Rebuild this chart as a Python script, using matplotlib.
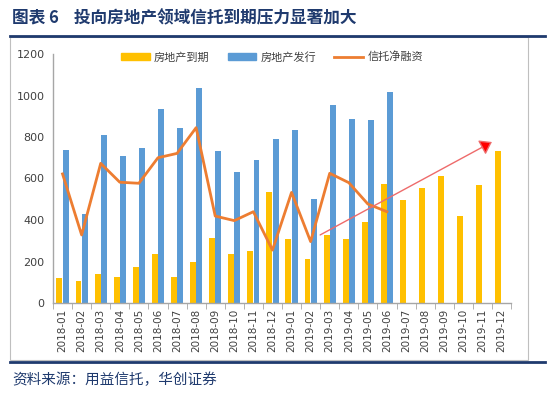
import matplotlib
matplotlib.use("Agg")
import matplotlib.pyplot as plt
import numpy as np
from matplotlib.lines import Line2D
from matplotlib.patches import Rectangle, Patch

plt.rcParams['font.family'] = ['Noto Sans CJK SC', 'DejaVu Sans']

months = ["2018-01", "2018-02", "2018-03", "2018-04", "2018-05", "2018-06",
          "2018-07", "2018-08", "2018-09", "2018-10", "2018-11", "2018-12",
          "2019-01", "2019-02", "2019-03", "2019-04", "2019-05", "2019-06",
          "2019-07", "2019-08", "2019-09", "2019-10", "2019-11", "2019-12"]
maturing = [120, 108, 140, 127, 172, 238, 124, 196, 313, 238, 252, 533,
            307, 210, 326, 307, 389, 575, 496, 556, 614, 418, 569, 733]
issuance = [737, 430, 810, 707, 749, 935, 842, 1035, 731, 630, 689, 789,
            835, 500, 953, 887, 882, 1015]
net_financing = [622, 328, 673, 582, 577, 700, 721, 845, 419, 397, 440, 255,
                 533, 296, 625, 580, 477, 440]

W, H = 552, 394
fig = plt.figure(figsize=(W / 100, H / 100), dpi=100)

def fx(px):
    return px / W

def fy(py):
    return 1 - py / H

ax = fig.add_axes([fx(53), fy(303), fx(511) - fx(53), fy(54) - fy(303)])

x = np.arange(len(months))
bw = 0.31
ax.bar(x - bw / 2 - 0.01, maturing, width=bw, color='#FFC000', label='房地产到期', zorder=2)
ax.bar(x[:len(issuance)] + bw / 2 + 0.01, issuance, width=bw, color='#5B9BD5', label='房地产发行', zorder=2)
ax.plot(x[:len(net_financing)], net_financing, color='#ED7D31', lw=2, label='信托净融资', zorder=3)

ax.annotate('', xy=(22.5, 776), xytext=(13.5, 328),
            arrowprops=dict(arrowstyle='-|>,head_length=0.5,head_width=0.35',
                            mutation_scale=14, lw=1,
                            ec='#EE6B6B', fc='#FF0000', shrinkA=0, shrinkB=0),
            zorder=4)

ax.set_xlim(-0.5, len(months) - 0.5)
ax.set_ylim(0, 1200)
ax.set_yticks(range(0, 1201, 200))
ax.set_xticks(x)
ax.set_xticklabels(months, rotation=90, fontsize=7.5, color='#404040',
                   family=['DejaVu Sans'])
ax.set_xticks(np.arange(-0.5, len(months), 1), minor=True)
ax.tick_params(axis='x', which='major', length=0, pad=4)
ax.tick_params(axis='x', which='minor', length=4, color='#A6A6A6')
ax.tick_params(axis='y', length=0, labelsize=8, labelcolor='#404040', pad=6)
for lab in ax.get_yticklabels():
    lab.set_family(['DejaVu Sans'])
for s in ['top', 'right']:
    ax.spines[s].set_visible(False)
for s in ['left', 'bottom']:
    ax.spines[s].set_color('#A6A6A6')
    ax.spines[s].set_linewidth(1)

handles = [Patch(color='#FFC000'), Patch(color='#5B9BD5'),
           Line2D([0], [0], color='#ED7D31', lw=2)]
fig.legend(handles, ['房地产到期', '房地产发行', '信托净融资'],
           loc='center', bbox_to_anchor=(fx(272), fy(57)), ncol=3, frameon=False,
           fontsize=8, handlelength=2.6, handleheight=0.6, columnspacing=1.6,
           handletextpad=0.4, labelcolor='#404040')

# chart frame
fig.add_artist(Rectangle((fx(10), fy(360)), fx(528) - fx(10), fy(37) - fy(360),
                         transform=fig.transFigure, fill=False, ec='#BFBFBF', lw=0.8))
# title + rules
fig.text(fx(12), fy(18), '图表 6    投向房地产领域信托到期压力显著加大', fontsize=12,
         fontweight='bold', color='#1F3A6E', va='center', ha='left')
fig.add_artist(Line2D([fx(10), fx(545)], [fy(36), fy(36)], transform=fig.transFigure,
                      color='#1F3A6E', lw=2))
fig.add_artist(Line2D([fx(10), fx(545)], [fy(361.5), fy(361.5)], transform=fig.transFigure,
                      color='#1F3A6E', lw=2))
fig.text(fx(12), fy(380), '资料来源：用益信托，华创证券', fontsize=10.5, fontstyle='italic',
         color='#1F3A6E', va='center', ha='left')

fig.savefig('out.png', dpi=100)
